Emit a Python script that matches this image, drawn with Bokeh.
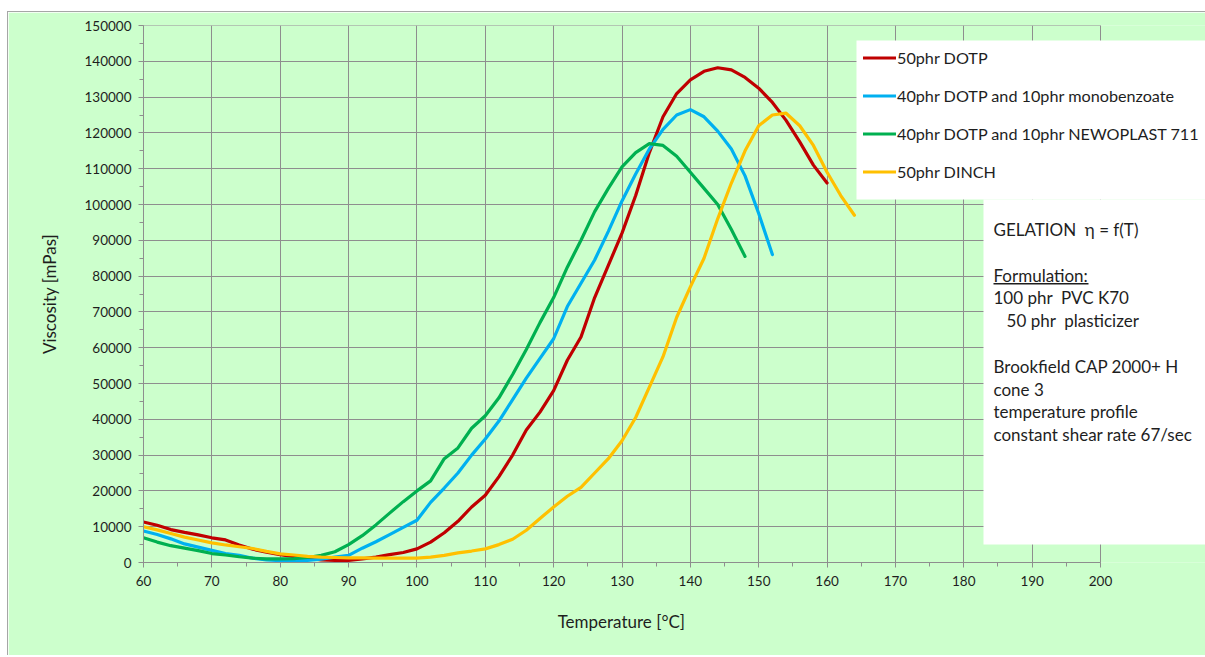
from bokeh.plotting import figure
from bokeh.models import (Range1d, SingleIntervalTicker, BoxAnnotation, Label,
                          Legend, LegendItem, BasicTickFormatter, Arrow)
from bokeh.embed import file_html
from bokeh.resources import INLINE

# ---------------- data ----------------
temp_dotp = list(range(60, 161, 2))
visc_dotp = [11300, 10400, 9200, 8400, 7700, 6900, 6300, 4900, 3700, 2900,
             2200, 1600, 1200, 700, 600, 600, 1000, 1500, 2200, 2800,
             3800, 5700, 8300, 11500, 15500, 18800, 24000, 30000, 37000, 42000,
             48000, 56500, 63000, 74000, 83000, 92000, 102500, 114500, 124500, 131000,
             134800, 137200, 138200, 137600, 135500, 132500, 128500, 123500, 117500, 111000,
             106000]

temp_mono = list(range(60, 153, 2))
visc_mono = [8800, 7800, 6600, 5200, 4300, 3400, 2500, 2000, 1200, 700,
             500, 500, 600, 900, 1500, 2000, 4000, 5800, 7800, 9800,
             11800, 16800, 20800, 25000, 30000, 34500, 39500, 45500, 51500, 57000,
             62500, 71500, 78000, 84500, 92500, 101000, 108500, 115500, 121000, 125000,
             126500, 124500, 120500, 115500, 108000, 97500, 86000]

temp_newo = list(range(60, 149, 2))
visc_newo = [6900, 5700, 4700, 4000, 3300, 2500, 2100, 1600, 1200, 1000,
             1000, 1100, 1400, 2000, 3000, 5000, 7500, 10500, 13800, 17000,
             20000, 22800, 29000, 32000, 37500, 41000, 46000, 52500, 59500, 67000,
             74000, 82500, 90000, 98000, 104500, 110500, 114500, 117000, 116500, 113500,
             109000, 104500, 100000, 93000, 85500]

temp_dinch = list(range(60, 165, 2))
visc_dinch = [10000, 9100, 8100, 7100, 6300, 5500, 4900, 4400, 3900, 3100,
              2400, 2100, 1700, 1500, 1400, 1300, 1300, 1200, 1200, 1200,
              1200, 1500, 2000, 2700, 3200, 3800, 5000, 6500, 9000, 12300,
              15500, 18500, 21000, 25000, 29000, 34000, 40500, 49000, 57500, 68500,
              77000, 85000, 96000, 106000, 115000, 122000, 125000, 125500, 122000, 116500,
              109000, 102500, 97000]

series_labels = ["50phr DOTP",
                 "40phr DOTP and 10phr monobenzoate",
                 "40phr DOTP and 10phr NEWOPLAST 711",
                 "50phr DINCH"]
series_colors = ["#C00000", "#00B0F0", "#00B050", "#FFC000"]

NB = "\u00a0"
note_lines = ["GELATION" + NB * 2 + "\u03b7 = f(T)", "", "Formulation:",
              "100 phr" + NB * 2 + "PVC K70",
              NB * 3 + "50 phr" + NB * 2 + "plasticizer", "",
              "Brookfield CAP 2000+ H", "cone 3",
              "temperature profile", "constant shear rate 67/sec"]

x_title = "Temperature [\u00b0C]"
y_title = "Viscosity [mPas]"

# ---------------- layout (page pixels) ----------------
CANVAS_L, CANVAS_T = 8, 12
FRAME_L, FRAME_T = 143, 25          # page position of x=60 / y=150000
PLOT_R, PLOT_B = 1100, 562          # page position of x=200 / y=0
PAGE_R, PAGE_B = 1205, 655
X0, X1, Y0, Y1 = 60, 200, 0, 150000
SX = (X1 - X0) / (PLOT_R - FRAME_L)   # data units per px
SY = (Y1 - Y0) / (PLOT_B - FRAME_T)


def px_x(px):
    return X0 + (px - FRAME_L) * SX


def px_y(py):
    return Y0 + (PLOT_B - py) * SY


FONT = "Lato"
TXT = "#1e1e1e"
GRID = "#8E8E8E"

p = figure(frame_width=PAGE_R - FRAME_L, frame_height=PLOT_B - FRAME_T,
           x_range=Range1d(X0, px_x(PAGE_R)), y_range=Range1d(Y0, Y1),
           output_backend="svg", toolbar_location=None,
           min_border_left=FRAME_L - CANVAS_L, min_border_top=FRAME_T - CANVAS_T,
           min_border_right=0, min_border_bottom=PAGE_B - PLOT_B,
           styles={"margin-left": "7px", "margin-top": "11px",
                   "border-left": "1px solid #A6A6A6", "border-top": "1px solid #A6A6A6"})

p.background_fill_color = "#CCFFCC"
p.border_fill_color = "#CCFFCC"
p.outline_line_color = None

p.xaxis.ticker = SingleIntervalTicker(interval=10, num_minor_ticks=2)
p.yaxis.ticker = SingleIntervalTicker(interval=10000, num_minor_ticks=2)
p.yaxis.formatter = BasicTickFormatter(use_scientific=False)
p.xaxis.bounds = (X0, X1)

for ax in (p.xaxis[0], p.yaxis[0]):
    ax.axis_line_color = GRID
    ax.major_tick_line_color = GRID
    ax.minor_tick_line_color = GRID
    ax.major_tick_in = 0
    ax.minor_tick_in = 0
    ax.major_tick_out = 5
    ax.minor_tick_out = 4
    ax.major_label_text_font = FONT
    ax.major_label_text_font_size = "13.5px"
    ax.major_label_text_color = TXT
    ax.axis_label_text_font = FONT
    ax.axis_label_text_font_size = "17px"
    ax.axis_label_text_font_style = "normal"
    ax.axis_label_text_color = TXT

# the x title is centred on the whole frame (which runs on under the notes panel);
# trailing fixed-width spaces move its visible part back over the 60..200 span
p.xaxis.axis_label = x_title + "\u2003" * 8 + NB
p.yaxis.axis_label = y_title
p.xaxis.major_label_standoff = 8
p.yaxis.major_label_standoff = 7
p.xaxis.axis_label_standoff = 22
p.yaxis.axis_label_standoff = 22

p.xgrid.grid_line_color = GRID
p.ygrid.grid_line_color = GRID

# closing lines of the plot area (top at y max, right at x max)
for a in (Arrow(x_start=X0, y_start=Y1, x_end=X1, y_end=Y1, end=None, line_color=GRID, line_width=1),
          Arrow(x_start=X1, y_start=Y0, x_end=X1, y_end=Y1, end=None, line_color=GRID, line_width=1)):
    a.level = "underlay"
    p.add_layout(a)

renderers = []
for xs, ys, col in ((temp_dotp, visc_dotp, series_colors[0]),
                    (temp_mono, visc_mono, series_colors[1]),
                    (temp_newo, visc_newo, series_colors[2]),
                    (temp_dinch, visc_dinch, series_colors[3])):
    r = p.line(xs, ys, line_color=col, line_width=3.2, line_join="round", line_cap="round")
    renderers.append(r)

# white panels for legend and notes
p.add_layout(BoxAnnotation(left=px_x(856), right=px_x(PAGE_R + 5), top=px_y(40), bottom=px_y(199),
                           fill_color="white", fill_alpha=1, line_color=None))
p.add_layout(BoxAnnotation(left=px_x(983), right=px_x(PAGE_R + 5), top=px_y(199), bottom=px_y(544),
                           fill_color="white", fill_alpha=1, line_color=None))

# notes text
for i, t in enumerate(note_lines):
    if not t:
        continue
    p.add_layout(Label(x=px_x(993), y=px_y(229 + 22.8 * i), text=t, text_font=FONT,
                       text_font_size="17px", text_color=TXT, text_baseline="middle",
                       text_align="left"))
# underline of "Formulation:"
p.add_layout(BoxAnnotation(left=px_x(993), right=px_x(1088), top=px_y(282.6), bottom=px_y(284),
                           fill_color=TXT, fill_alpha=1, line_color=None))

legend = Legend(items=[LegendItem(label=l, renderers=[r]) for l, r in zip(series_labels, renderers)],
                location=(863 - FRAME_L, PLOT_B - 182), margin=0, padding=7,
                spacing=17, glyph_width=33, glyph_height=21, label_height=21,
                label_standoff=1, label_text_font=FONT, label_text_font_size="16.2px",
                label_text_color=TXT, background_fill_alpha=0, border_line_color=None)
p.add_layout(legend)

open("out.html", "w").write(file_html(p, INLINE))
